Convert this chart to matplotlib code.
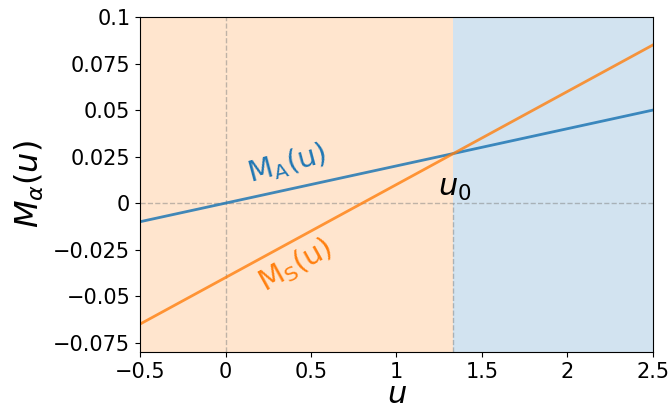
import numpy as np
import matplotlib.pyplot as plt

# line parameters
u_range = [-0.5, 2.5]
slope_A, icpt_A = 0.02, 0.0
slope_S, icpt_S = 0.05, -0.04
y_range = [-0.08, 0.1]
xticks = [-0.5, 0, 0.5, 1, 1.5, 2, 2.5]
xtick_labels = ['\u22120.5', '0', '0.5', '1', '1.5', '2', '2.5']
yticks = [-0.075, -0.05, -0.025, 0, 0.025, 0.05, 0.075, 0.1]
ytick_labels = ['\u22120.075', '\u22120.05', '\u22120.025', '0', '0.025', '0.05', '0.075', '0.1']

u0 = (icpt_A - icpt_S) / (slope_S - slope_A)
y0 = slope_A * u0 + icpt_A

fig = plt.figure(figsize=(6.68, 4.12), dpi=100)
ax = fig.add_axes([0.2096, 0.1456, 0.7679, 0.8131])

ax.axvspan(u_range[0], u0, color='tab:orange', alpha=0.2, lw=0)
ax.axvspan(u0, u_range[1], color='tab:blue', alpha=0.2, lw=0)

ax.axhline(0, color='grey', ls='--', lw=1, alpha=0.5)
ax.axvline(0, color='grey', ls='--', lw=1, alpha=0.5)
ax.plot([u0, u0], [y_range[0], 0], color='grey', ls='--', lw=1, alpha=0.5)

u = np.array(u_range)
ax.plot(u, slope_A * u + icpt_A, color='tab:blue', lw=2, alpha=0.85)
ax.plot(u, slope_S * u + icpt_S, color='tab:orange', lw=2, alpha=0.8)

ax.text(0.36, 0.021, r'$\mathsf{M_A(u)}$', color='tab:blue', fontsize=21,
        rotation=15, ha='center', va='center')
ax.text(0.41, -0.0335, r'$\mathsf{M_S(u)}$', color='tab:orange', fontsize=21,
        rotation=29, ha='center', va='center')
ax.text(u0 - 0.09, 0.0, r'$u_0$', fontsize=22, ha='left', va='bottom')

ax.set_xlim(u_range)
ax.set_ylim(y_range)
ax.set_xticks(xticks)
ax.set_xticklabels(xtick_labels)
ax.set_yticks(yticks)
ax.set_yticklabels(ytick_labels)
ax.tick_params(labelsize=15)
ax.set_xlabel(r'$u$', fontsize=22, labelpad=-1)
ax.set_ylabel(r'$M_\alpha(u)$', fontsize=23, labelpad=5)

fig.savefig('out.png', dpi=100)
